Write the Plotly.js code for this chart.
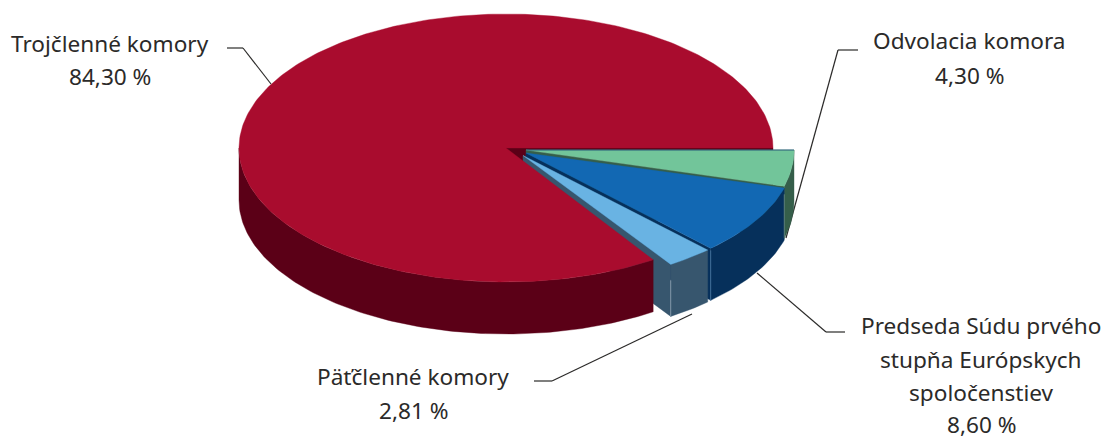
<!DOCTYPE html>
<html><head><meta charset="utf-8">
<script src="https://cdn.plot.ly/plotly-3.0.1.min.js"></script>
<style>html,body{margin:0;padding:0;background:#fff}#c{width:1104px;height:439px}</style>
</head><body><div id="c"></div>
<script>
// data
const sliceNames = ["Odvolacia komora","Predseda Súdu prvého|stupňa Európskych|spoločenstiev","Päťčlenné komory","Trojčlenné komory"];
const sliceValues = [4.30, 8.60, 2.81, 84.30];
const valueLabels = ["4,30 %","8,60 %","2,81 %","84,30 %"];
const topColors  = ["#72C59A","#1268B3","#69B3E3","#A90C2E"];
const sideColors = ["#355E4A","#06305B","#37566E","#5B0017"];

// projection of the tilted pie
const depth = 52;
const geom = [
  {cx:526, cy:150, rx:268, ry:136},
  {cx:526, cy:153, rx:268, ry:131.6},
  {cx:523, cy:155.5, rx:268, ry:130.5},
  {cx:506, cy:148, rx:267, ry:134}
];
const total = sliceValues.reduce((a,b)=>a+b,0);
let acc = 0;
const spans = sliceValues.map(v=>{const s=acc; acc+=v/total*2*Math.PI; return [s,acc];});

function pt(g,t,dy){return [g.cx+g.rx*Math.cos(t), g.cy+g.ry*Math.sin(t)+(dy||0)];}
function arc(g,a,b,dy){
  const n=Math.max(2,Math.ceil(Math.abs(b-a)/(Math.PI/180)));
  const out=[];
  for(let i=0;i<=n;i++) out.push(pt(g,a+(b-a)*i/n,dy));
  return out;
}
const traces=[];
function poly(points,color){
  const x=points.map(p=>p[0]), y=points.map(p=>p[1]);
  x.push(x[0]); y.push(y[0]);
  traces.push({type:"scatter",x,y,mode:"lines",fill:"toself",fillcolor:color,
    line:{color:color,width:0.4},hoverinfo:"skip",showlegend:false});
}
function seg(a,b,color,w){
  traces.push({type:"scatter",x:[a[0],b[0]],y:[a[1],b[1]],mode:"lines",
    line:{color:color,width:w},hoverinfo:"skip",showlegend:false});
}
const RED=3;
const apex=g=>[g.cx,g.cy];
const rg=geom[RED];
poly([apex(rg),pt(rg,0),pt(rg,0,depth),[rg.cx,rg.cy+depth]],sideColors[RED]);
[0,1,2].forEach(i=>{
  const g=geom[i],[a,b]=spans[i];
  poly([apex(g),pt(g,b),pt(g,b,depth),[g.cx,g.cy+depth]],sideColors[i]);
  poly(arc(g,a,b,0).concat(arc(g,b,a,depth)),sideColors[i]);
});
poly(arc(rg,spans[RED][0],Math.PI,0).concat(arc(rg,Math.PI,spans[RED][0],depth)),sideColors[RED]);
poly([apex(rg)].concat(arc(rg,spans[RED][0],spans[RED][1])),topColors[RED]);
[0,1,2].forEach(i=>{
  const g=geom[i],[a,b]=spans[i];
  poly([apex(g)].concat(arc(g,a,b)),topColors[i]);
});
seg(apex(geom[0]),pt(geom[0],0),"#2A5A7A",1.2);
seg(pt(geom[0],spans[0][1],8),pt(geom[0],spans[0][1],depth),"#6F8F80",0.8);
seg(pt(geom[1],spans[1][1],2),pt(geom[1],spans[1][1],depth),"#4A79A6",0.8);
seg(pt(geom[2],spans[2][1],16),pt(geom[2],spans[2][1],depth),"#8FA5B5",0.8);

const leaders=[
  [[227,48],[243,48],[271,84]],
  [[858,50],[838,50],[786,238]],
  [[757,273],[826,332],[845,332]],
  [[534,381],[552,381],[692,314]]
];
const shapes=[];
leaders.forEach(l=>{
  for(let i=0;i<l.length-1;i++) shapes.push({type:"line",xref:"x",yref:"y",layer:"below",
    x0:l[i][0],y0:l[i][1],x1:l[i+1][0],y1:l[i+1][1],line:{color:"#2b2a29",width:1.2}});
});

const labelX=[969,981,413,110];
const labelY=[[40,75],[325,359,392,424],[376,410],[43,76]];
const annotations=[];
sliceNames.forEach((n,i)=>{
  n.split("|").concat([valueLabels[i]]).forEach((line,j)=>{
    annotations.push({xref:"x",yref:"y",x:labelX[i],y:labelY[i][j],text:line,
      showarrow:false,xanchor:"center",yanchor:"middle",align:"center",
      font:{family:"Noto Sans, sans-serif",size:22.6,color:"#2b2a29"}});
  });
});

const axis={visible:false,fixedrange:true,showgrid:false,zeroline:false};
Plotly.newPlot("c",traces,{
  width:1104,height:439,margin:{l:0,r:0,t:0,b:0},
  paper_bgcolor:"#fff",plot_bgcolor:"#fff",showlegend:false,
  xaxis:Object.assign({range:[0,1104]},axis),
  yaxis:Object.assign({range:[439,0]},axis),
  shapes,annotations
},{displayModeBar:false,staticPlot:true});
</script></body></html>
